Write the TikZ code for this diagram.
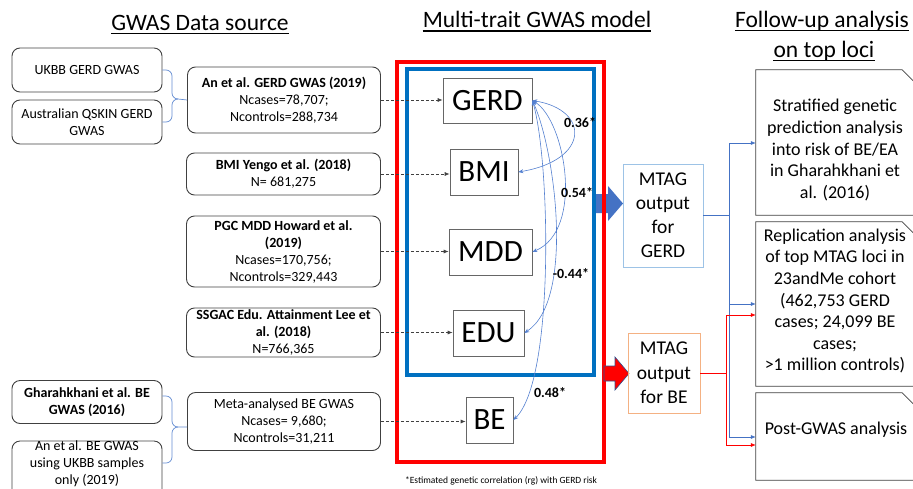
\documentclass[tikz,border=0pt]{standalone}
\usepackage{fontspec}
\setmainfont{Carlito}
\usetikzlibrary{arrows.meta,calc}
\definecolor{boxblue}{RGB}{0,112,192}
\definecolor{arrblue}{RGB}{68,114,196}
\definecolor{curveblue}{RGB}{84,128,208}
\definecolor{lightblue}{RGB}{157,195,230}
\definecolor{orangeb}{RGB}{244,177,131}
\definecolor{brd}{RGB}{64,64,64}
\definecolor{navyo}{RGB}{47,82,143}
\definecolor{braceblue}{RGB}{100,140,210}
\begin{document}
\begin{tikzpicture}[x=1pt,y=-1pt,
  srcbox/.style={draw=brd, line width=0.9pt, rounded corners=8pt, align=center, inner sep=0pt, font=\fontsize{14}{17}\selectfont},
  trait/.style={draw=black!60, line width=0.7pt, inner sep=0pt, font=\fontsize{31}{31}\selectfont},
  dasharr/.style={draw=black!75, line width=0.7pt, dash pattern=on 3pt off 2pt, -{Latex[length=5pt,width=4pt]}},
  corr/.style={draw=curveblue, line width=0.6pt, {Stealth[length=5pt,width=4pt]}-{Stealth[length=5pt,width=4pt]}},
  rlab/.style={font=\fontsize{14}{14}\selectfont\bfseries, inner sep=0pt},
  mtag/.style={line width=0.9pt, align=center, inner sep=0pt},
  futext/.style={align=center, inner sep=0pt, font=\fontsize{18}{21.6}\selectfont},
  fuframe/.style={draw=brd, line width=0.8pt},
  ttl/.style={inner sep=0pt, font=\fontsize{23.5}{30}\selectfont, anchor=base},
  brc/.style={draw=braceblue, line width=0.7pt},
  gconn/.style={draw=arrblue, line width=0.6pt, -{Latex[length=5pt,width=4pt]}},
  rconn/.style={draw=red, line width=0.6pt, -{Latex[length=5pt,width=4pt]}},
]
\useasboundingbox (0,0) rectangle (913,488);
\clip (0,0) rectangle (913,488);

% titles
\node[ttl] (ttl1) at (200,30) {GWAS Data source};
\node[ttl] (ttl2) at (537,27.5) {Multi-trait GWAS model};
\node[ttl] (ttl3) at (822,27) {Follow-up analysis};
\node[ttl] (ttl4) at (824,57) {on top loci};
\foreach \t in {ttl1,ttl2,ttl3,ttl4}
  \draw[line width=1.1pt] ([yshift=-3.5pt]\t.base west) -- ([yshift=-3.5pt]\t.base east);

% source boxes
\node[srcbox, minimum width=150pt, minimum height=44pt] (ukbb) at (87,70) {UKBB GERD GWAS};
\node[srcbox, minimum width=150pt, minimum height=44pt] (qskin) at (87,122) {Australian QSKIN GERD\\GWAS};
\node[srcbox, minimum width=193pt, minimum height=66pt] (angerd) at (284,100) {\textbf{An et al. GERD GWAS (2019)}\\Ncases=78,707;\\Ncontrols=288,734};
\node[srcbox, minimum width=194pt, minimum height=42pt] (bmisrc) at (283.5,174) {\textbf{BMI Yengo et al. (2018)}\\N= 681,275};
\node[srcbox, minimum width=194pt, minimum height=71pt] (mddsrc) at (283.5,251.5) {\textbf{PGC MDD Howard et al.}\\\textbf{(2019)}\\Ncases=170,756;\\Ncontrols=329,443};
\node[srcbox, minimum width=194pt, minimum height=49pt] (edusrc) at (283.5,332.5) {\textbf{SSGAC Edu. Attainment Lee et}\\\textbf{al. (2018)}\\N=766,365};
\node[srcbox, minimum width=150pt, minimum height=43pt] (ghara) at (87,402) {\textbf{Gharahkhani et al. BE}\\\textbf{GWAS (2016)}};
\node[srcbox, minimum width=150pt, minimum height=60pt] (anbe) at (87,471) {};
\node[align=center, inner sep=0pt, font=\fontsize{14}{17}\selectfont] (anbeT) at (87,464) {An et al. BE GWAS\\using UKBB samples\\only (2019)};
\node[srcbox, minimum width=193pt, minimum height=58pt] (metabe) at (284,421.5) {Meta-analysed BE GWAS\\Ncases= 9,680;\\Ncontrols=31,211};

% braces
\draw[brc] (ukbb.east) -- (166,70) to[out=0,in=90] (172,76) -- (172,93) to[out=-90,in=180] (178,99) -- (angerd.west);
\draw[brc] (178,99) to[out=180,in=90] (172,105) -- (172,116) to[out=-90,in=0] (166,122) -- (qskin.east);
\draw[brc] ([yshift=6pt]ghara.east) -- (166,396) to[out=0,in=90] (172,402) -- (172,421) to[out=-90,in=180] (178,427) -- ([yshift=-5.5pt]metabe.west);
\draw[brc] (178,427) to[out=180,in=90] (172,433) -- (172,457) to[out=-90,in=0] (166,463) -- ([yshift=8pt]anbe.east);

% containers and block arrows
\node[draw=boxblue, line width=4pt, minimum width=187pt, minimum height=306pt, inner sep=0pt] (bluebox) at (500.5,222) {};
\fill[arrblue] (596,194) -- (608,194) -- (608,186) -- (623,203.5) -- (608,221) -- (608,213) -- (596,213) -- cycle;
\node[draw=red, line width=4pt, minimum width=207pt, minimum height=400pt, inner sep=0pt] (redbox) at (500.5,262) {};
\filldraw[fill=red, draw=navyo, line width=0.6pt] (604,366) -- (615,366) -- (615,357) -- (629,373.5) -- (615,390) -- (615,381) -- (604,381) -- cycle;

% trait boxes
\node[trait, minimum width=89pt, minimum height=45pt] (gerd) at (487.5,100.5) {GERD};
\node[trait, minimum width=68pt, minimum height=46pt] (bmi) at (484,172) {BMI};
\node[trait, minimum width=83pt, minimum height=46pt] (mdd) at (490.5,252) {MDD};
\node[trait, minimum width=71pt, minimum height=46pt] (edu) at (488.5,333) {EDU};
\node[trait, minimum width=47pt, minimum height=46pt] (be) at (489.5,420) {BE};

\foreach \s/\t in {angerd/gerd, bmisrc/bmi, mddsrc/mdd, edusrc/edu, metabe/be}
  \draw[dasharr] (\s.east) -- (\s.east -| \t.west);

% correlations
\draw[corr] (gerd.east) .. controls (590,110) and (590,160) .. (bmi.east);
\draw[corr] (gerd.east) .. controls (565,120) and (585,230) .. (mdd.east);
\draw[corr] (gerd.east) .. controls (555,150) and (575,300) .. (edu.east);
\draw[corr] (gerd.east) .. controls (550,160) and (555,380) .. (be.east);
\node[rlab] (lab1) at (580,123) {0.36*};
\node[rlab] (lab2) at (577,193) {0.54*};
\node[rlab] (lab3) at (571,274) {-0.44*};
\node[rlab] (lab4) at (550,393) {0.48*};

% MTAG outputs
\node[mtag, draw=lightblue, minimum width=80pt, minimum height=103pt, font=\fontsize{19.5}{24}\selectfont] (mtagG) at (663,215.5) {MTAG\\output\\for\\GERD};
\node[mtag, draw=orangeb, minimum width=72pt, minimum height=80pt, font=\fontsize{19.5}{24.5}\selectfont] (mtagBE) at (664,373) {MTAG\\output\\for BE};

% follow-up boxes
\node[minimum width=162pt, minimum height=145pt, inner sep=0pt] (strat) at (837,142.5) {};
\node[minimum width=162pt, minimum height=164pt, inner sep=0pt] (repl) at (837,304) {};
\node[minimum width=162pt, minimum height=87pt, inner sep=0pt] (post) at (837,436.5) {};
\foreach \n in {strat,repl,post}
  \draw[fuframe] (\n.south west) -- (\n.north west) -- ([xshift=-16pt]\n.north east) -- ([yshift=-16pt]\n.north east) -- (\n.south east) -- cycle;
\node[futext] (stratT) at (835,150) {Stratified genetic\\prediction analysis\\into risk of BE/EA\\in Gharahkhani et\\al. (2016)};
\node[futext] (replT) at (835,301) {Replication analysis\\of top MTAG loci in\\23andMe cohort\\(462,753 GERD\\cases; 24,099 BE\\cases;\\>1 million controls)};
\node[futext] (postT) at (836,430) {Post-GWAS analysis};

% connectors to follow-up
\coordinate (gx) at (729,215.5);
\coordinate (rx) at (726,373);
\coordinate (in1) at (strat.west |- 0,143);
\coordinate (in2) at (repl.west |- 0,304);
\coordinate (in3) at (post.west |- 0,437);
\coordinate (in4) at (repl.west |- 0,315);
\coordinate (in5) at (post.west |- 0,445);
\draw[gconn] (mtagG.east) -- (gx) |- (in1);
\draw[gconn] (gx) |- (in2);
\draw[gconn] (gx) |- (in3);
\draw[rconn] (mtagBE.east) -- (rx) |- (in4);
\draw[rconn] (rx) |- (in5);

% footnote
\node[font=\fontsize{9.5}{9.5}\selectfont, inner sep=0pt] (foot) at (501,481) {*Estimated genetic correlation (rg) with GERD risk};
\end{tikzpicture}
\end{document}
